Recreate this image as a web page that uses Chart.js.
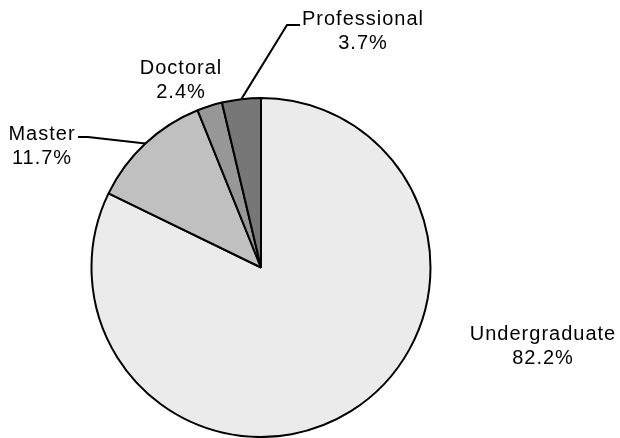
<!DOCTYPE html>
<html>
<head>
<meta charset="utf-8">
<script src="https://cdn.jsdelivr.net/npm/chart.js@4/dist/chart.umd.min.js"></script>
<style>
  html, body { margin: 0; padding: 0; background: #ffffff; }
  #wrap { position: relative; width: 620px; height: 438px; }
</style>
</head>
<body>
<div id="wrap"><canvas id="c" width="620" height="438"></canvas></div>
<script>
// Data
const categories = ["Undergraduate", "Master", "Doctoral", "Professional"];
const percents = [82.2, 11.7, 2.4, 3.7];
const labelTexts = ["82.2%", "11.7%", "2.4%", "3.7%"];
const sliceColors = ["#ebebeb", "#c0c0c0", "#979797", "#777777"];

// Label layout (text centre x, first baseline y, optional leader elbow & end)
const labelLayout = [
  { x: 543, y: 340, leader: null },
  { x: 42,  y: 140, leader: { elbow: [88, 137], end: [78, 137] } },
  { x: 181, y: 74,  leader: null },
  { x: 363, y: 25,  leader: { elbow: [287, 25], end: [300, 25] } }
];

const labelPlugin = {
  id: 'pieLabels',
  afterDraw(chart) {
    const ctx = chart.ctx;
    const meta = chart.getDatasetMeta(0);
    ctx.save();
    meta.data.forEach((arc, i) => {
      const L = labelLayout[i];
      if (L.leader) {
        const mid = (arc.startAngle + arc.endAngle) / 2;
        const ex = arc.x + Math.cos(mid) * arc.outerRadius;
        const ey = arc.y + Math.sin(mid) * arc.outerRadius;
        ctx.beginPath();
        ctx.strokeStyle = '#000';
        ctx.lineWidth = 2;
        ctx.moveTo(ex, ey);
        ctx.lineTo(L.leader.elbow[0], L.leader.elbow[1]);
        ctx.lineTo(L.leader.end[0], L.leader.end[1]);
        ctx.stroke();
      }
      ctx.fillStyle = '#000';
      ctx.font = '20px "Liberation Sans", Arial, sans-serif';
      ctx.letterSpacing = '1px';
      ctx.textAlign = 'center';
      ctx.textBaseline = 'alphabetic';
      ctx.fillText(categories[i], L.x, L.y);
      ctx.fillText(labelTexts[i], L.x, L.y + 24);
    });
    ctx.restore();
  }
};

new Chart(document.getElementById('c'), {
  type: 'pie',
  data: {
    labels: categories,
    datasets: [{
      data: percents,
      backgroundColor: sliceColors,
      borderColor: '#000000',
      borderWidth: 2,
      hoverOffset: 0
    }]
  },
  options: {
    responsive: false,
    animation: false,
    devicePixelRatio: 1,
    layout: { padding: { left: 90, right: 188, top: 97, bottom: 0 } },
    plugins: {
      legend: { display: false },
      tooltip: { enabled: false }
    }
  },
  plugins: [labelPlugin]
});
</script>
</body>
</html>
